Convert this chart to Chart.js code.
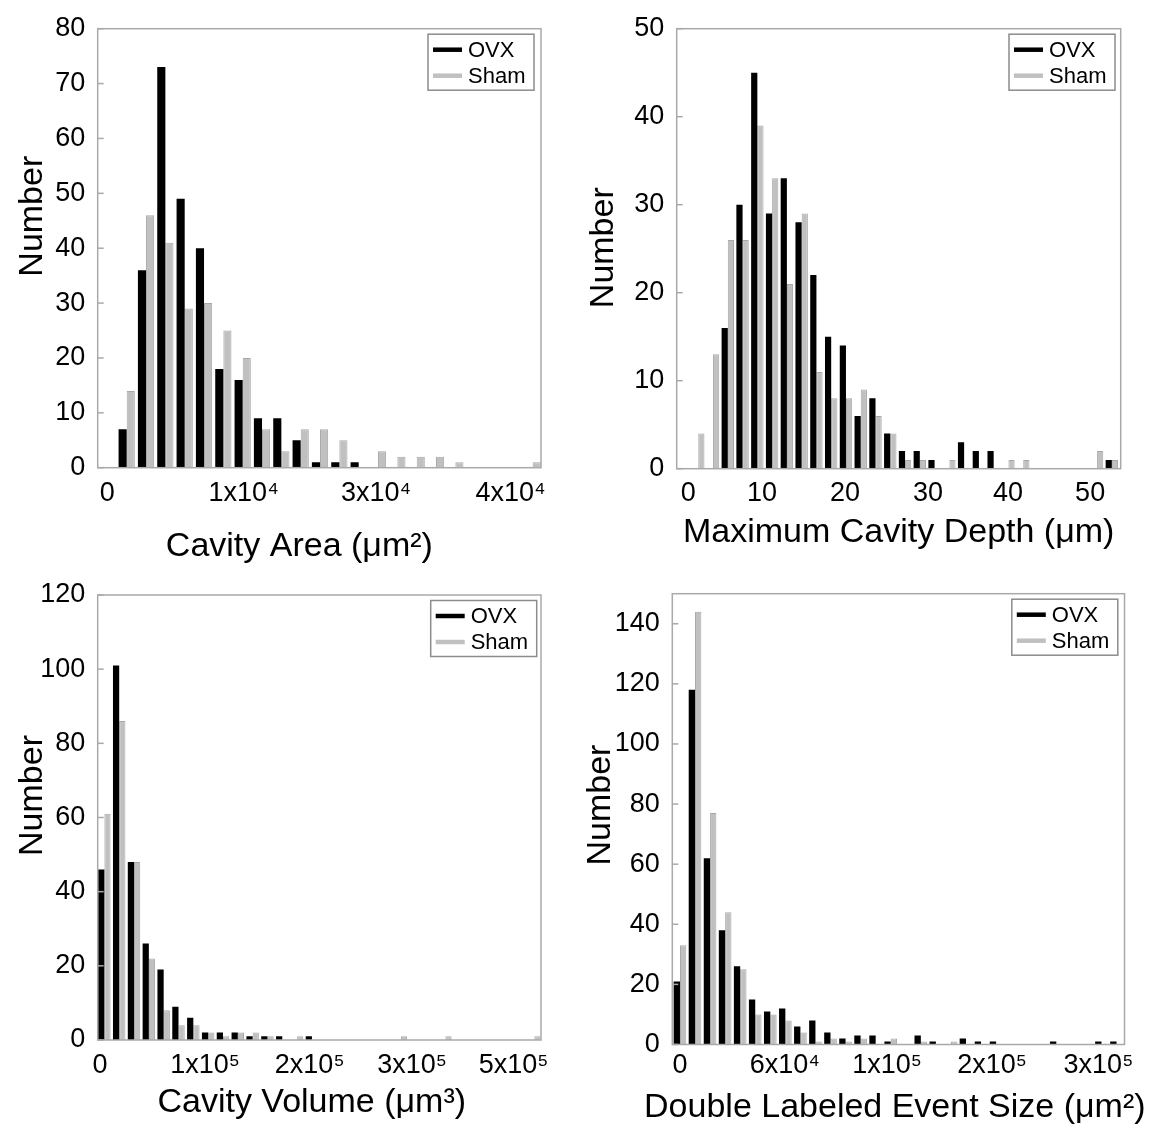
<!DOCTYPE html>
<html>
<head>
<meta charset="utf-8">
<script src="https://cdn.jsdelivr.net/npm/chart.js@4.4.0/dist/chart.umd.min.js"></script>
<style>
    body { margin: 0; background: #fff; }
    #wrap { position: relative; width: 1157px; height: 1130px; }
    #wrap canvas { position: absolute; }
</style>
</head>
<body>
<div id="wrap">
    <canvas id="c1" width="578" height="565" style="left:0;top:0"></canvas>
    <canvas id="c2" width="579" height="565" style="left:578px;top:0"></canvas>
    <canvas id="c3" width="578" height="565" style="left:0;top:565px"></canvas>
    <canvas id="c4" width="579" height="565" style="left:578px;top:565px"></canvas>
</div>
<script>
// cavity area histogram (x in bin units)
var areaBins = [1, 2, 3, 4, 5, 6, 7, 8, 9, 10, 11, 12, 13, 14, 15, 16, 17, 18, 19, 20, 21, 22];
var areaOvx = [7, 36, 73, 49, 40, 18, 16, 9, 9, 5, 1, 1, 1, 0, 0, 0, 0, 0, 0, 0, 0, 0];
var areaSham = [14, 46, 41, 29, 30, 25, 20, 7, 3, 7, 7, 5, 0, 3, 2, 2, 2, 1, 0, 0, 0, 1];
var areaTickPos = [0, 7.05, 13.9, 20.85];
var areaTickLbl = ['0', '1x10\u2074', '3x10\u2074', '4x10\u2074'];

// maximum cavity depth
var depthBins = [1, 2, 3, 4, 5, 6, 7, 8, 9, 10, 11, 12, 13, 14, 15, 16, 17, 18, 19, 20, 21, 22, 23, 24, 25, 26, 27, 28, 29];
var depthOvx = [0, 0, 16, 30, 45, 29, 33, 28, 22, 15, 14, 6, 8, 4, 2, 2, 1, 0, 3, 2, 2, 0, 0, 0, 0, 0, 0, 0, 1];
var depthSham = [4, 13, 26, 26, 39, 33, 21, 29, 11, 8, 8, 9, 6, 4, 1, 1, 0, 1, 0, 0, 0, 1, 1, 0, 0, 0, 0, 2, 1];
var depthTickPos = [0.32, 5.31, 10.93, 16.55, 21.97, 27.53];
var depthTickLbl = ['0', '10', '20', '30', '40', '50'];

// cavity volume
var volBins = [1, 2, 3, 4, 5, 6, 7, 8, 9, 10, 11, 12, 13, 14, 15, 16, 17, 18, 19, 20, 21, 22, 23, 24, 25, 26, 27, 28, 29, 30];
var volOvx = [46, 101, 48, 26, 19, 9, 6, 2, 2, 2, 1, 1, 1, 0, 1, 0, 0, 0, 0, 0, 0, 0, 0, 0, 0, 0, 0, 0, 0, 0];
var volSham = [61, 86, 48, 22, 8, 4, 4, 2, 1, 2, 2, 1, 0, 1, 0, 0, 0, 0, 0, 0, 1, 0, 0, 1, 0, 0, 0, 0, 0, 1];
var volTickPos = [0.7, 7.8, 14.85, 21.75, 28.6];
var volTickLbl = ['0', '1x10\u2075', '2x10\u2075', '3x10\u2075', '5x10\u2075'];

// double labeled event size
var dlBins = [1, 2, 3, 4, 5, 6, 7, 8, 9, 10, 11, 12, 13, 14, 15, 16, 17, 18, 19, 20, 21, 22, 23, 24, 25, 26, 27, 28, 29, 30];
var dlOvx = [21, 118, 62, 38, 26, 15, 11, 12, 6, 8, 4, 2, 3, 3, 1, 0, 3, 1, 0, 2, 1, 1, 0, 0, 0, 1, 0, 0, 1, 1];
var dlSham = [33, 144, 77, 44, 25, 10, 10, 8, 4, 1, 2, 1, 2, 0, 2, 0, 1, 0, 1, 0, 0, 0, 0, 0, 0, 0, 0, 0, 0, 0];
var dlTickPos = [1.0, 7.97, 14.76, 21.73, 28.8];
var dlTickLbl = ['0', '6x10\u2074', '1x10\u2075', '2x10\u2075', '3x10\u2075'];

var FONT = "'Liberation Sans', Arial, sans-serif";
var BLACK = '#000000', GREY = '#c0c0c0';

// frame, inward y ticks, boxed legend and axis titles
var deco = {
    id: 'deco',
    afterDatasetsDraw: function (chart, args, o) {
        var c = chart.ctx, a = chart.chartArea, ys = chart.scales.y;
        c.save();
        c.strokeStyle = '#a9a9a9';
        c.lineWidth = 1.5;
        c.strokeRect(a.left, a.top, a.right - a.left, a.bottom - a.top);
        ys.ticks.forEach(function (t) {
            var y = ys.getPixelForValue(t.value);
            c.beginPath();
            c.moveTo(a.left, y);
            c.lineTo(a.left + 6, y);
            c.stroke();
        });

        var lw = 106, lh = 56;
        var lx = a.right - o.legRight - lw, ly = a.top + 5.5;
        c.fillStyle = '#fff';
        c.fillRect(lx, ly, lw, lh);
        c.strokeStyle = '#8c8c8c';
        c.lineWidth = 1.5;
        c.strokeRect(lx, ly, lw, lh);
        chart.data.datasets.forEach(function (d, i) {
            var yy = ly + 15.5 + i * 26;
            c.strokeStyle = d.backgroundColor;
            c.lineWidth = 4.5;
            c.beginPath();
            c.moveTo(lx + 5, yy);
            c.lineTo(lx + 34, yy);
            c.stroke();
            c.fillStyle = '#000';
            c.font = '22px ' + FONT;
            c.textAlign = 'left';
            c.textBaseline = 'middle';
            c.fillText(d.label, lx + 40, yy + 1);
        });

        c.fillStyle = '#000';
        c.font = '34px ' + FONT;
        c.textAlign = 'center';
        c.textBaseline = 'alphabetic';
        c.fillText(o.xTitle, (a.left + a.right) / 2 + o.xdx, a.bottom + o.xdy);
        c.translate(a.left + o.ydx, (a.top + a.bottom) / 2 + o.ydy);
        c.rotate(-Math.PI / 2);
        c.fillText('Number', 0, 0);
        c.restore();
    }
};

function makeChart(id, p) {
    var ctx = document.getElementById(id).getContext('2d');
    var ovxData = p.bins.map(function (b, i) { return { x: b, y: p.ovx[i] } });
    var shamData = p.bins.map(function (b, i) { return { x: b, y: p.sham[i] } });
    return new Chart(ctx, {
        type: 'bar',
        data: {
            datasets: [
                { label: 'OVX', data: ovxData, backgroundColor: BLACK, borderColor: BLACK, borderWidth: 0,
                  categoryPercentage: 0.84, barPercentage: 1.0 },
                { label: 'Sham', data: shamData, backgroundColor: GREY, borderColor: '#a8a8a8', borderWidth: 1,
                  categoryPercentage: 0.84, barPercentage: 1.0 }
            ]
        },
        options: {
            responsive: false,
            animation: false,
            events: [],
            layout: { padding: p.pad },
            plugins: {
                legend: { display: false },
                tooltip: { enabled: false },
                deco: p.deco
            },
            scales: {
                x: {
                    type: 'linear',
                    offset: false,
                    min: p.xmin,
                    max: p.xmax,
                    grid: { display: false, drawTicks: false },
                    border: { display: false },
                    afterBuildTicks: function (s) {
                        s.ticks = p.xTickPos.map(function (v) { return { value: v } });
                    },
                    afterFit: function (s) { s.height = 40 },
                    ticks: {
                        autoSkip: false,
                        maxRotation: 0,
                        padding: p.xPad,
                        color: '#000',
                        font: { family: FONT, size: 27 },
                        callback: function (v, i) { return p.xTickLbl[i] }
                    }
                },
                y: {
                    min: 0,
                    max: p.ymax,
                    grid: { display: false, drawTicks: false },
                    border: { display: false },
                    afterBuildTicks: function (s) {
                        s.ticks = p.yTicks.map(function (v) { return { value: v } });
                    },
                    afterFit: function (s) { s.width = 70 },
                    ticks: {
                        padding: 12.5,
                        color: '#000',
                        font: { family: FONT, size: 27 }
                    }
                }
            }
        },
        plugins: [deco]
    });
}

makeChart('c1', {
    bins: areaBins, ovx: areaOvx, sham: areaSham,
    xTickPos: areaTickPos, xTickLbl: areaTickLbl, xmin: -0.5, xmax: 22.43, xPad: 10,
    ymax: 80, yTicks: [0, 10, 20, 30, 40, 50, 60, 70, 80],
    pad: { left: 27.7, top: 24, right: 37, bottom: 57.3 },
    deco: { xTitle: 'Cavity Area (\u03bcm\u00b2)', xdx: -20, xdy: 88, ydx: -56, ydy: -32, legRight: 7 }
});
makeChart('c2', {
    bins: depthBins, ovx: depthOvx, sham: depthSham,
    xTickPos: depthTickPos, xTickLbl: depthTickLbl, xmin: -0.46, xmax: 29.6, xPad: 8.6,
    ymax: 50, yTicks: [0, 10, 20, 30, 40, 50],
    pad: { left: 28.7, top: 25, right: 36.3, bottom: 56.3 },
    deco: { xTitle: 'Maximum Cavity Depth (\u03bcm)', xdx: 0, xdy: 73, ydx: -64, ydy: -1, legRight: 5.7 }
});
makeChart('c3', {
    bins: volBins, ovx: volOvx, sham: volSham,
    xTickPos: volTickPos, xTickLbl: volTickLbl, xmin: 0.55, xmax: 30.45, xPad: 9.4,
    ymax: 120, yTicks: [0, 20, 40, 60, 80, 100, 120],
    pad: { left: 27.7, top: 30, right: 37, bottom: 50 },
    deco: { xTitle: 'Cavity Volume (\u03bcm\u00b3)', xdx: -7.6, xdy: 72, ydx: -56, ydy: -22, legRight: 4.3 }
});
makeChart('c4', {
    bins: dlBins, ovx: dlOvx, sham: dlSham,
    xTickPos: dlTickPos, xTickLbl: dlTickLbl, xmin: 0.49, xmax: 30.53, xPad: 4.5,
    ymax: 150, yTicks: [0, 20, 40, 60, 80, 100, 120, 140],
    pad: { left: 24.3, top: 25.5, right: 32.5, bottom: 45.5 },
    deco: { xTitle: 'Double Labeled Event Size (\u03bcm\u00b2)', xdx: -3.6, xdy: 72, ydx: -62, ydy: -14, legRight: 6.7 }
});
</script>
</body>
</html>
